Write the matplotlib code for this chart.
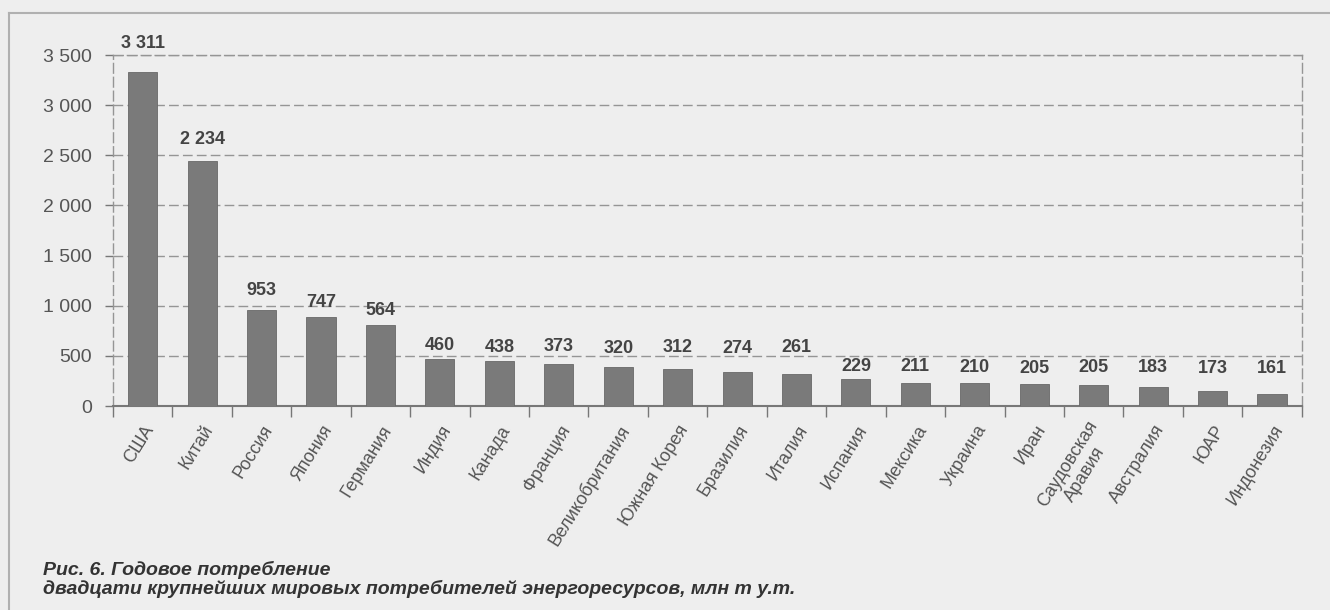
import matplotlib
matplotlib.use("Agg")
from matplotlib import pyplot as plt
from matplotlib.lines import Line2D
from matplotlib.ticker import FuncFormatter
from matplotlib.transforms import ScaledTranslation

# countries, printed values (mln t of fuel equivalent)
countries = ["США", "Китай", "Россия", "Япония", "Германия", "Индия", "Канада",
             "Франция", "Великобритания", "Южная Корея", "Бразилия", "Италия",
             "Испания", "Мексика", "Украина", "Иран", "Саудовская\nАравия",
             "Австралия", "ЮАР", "Индонезия"]
printed_values = [3311, 2234, 953, 747, 564, 460, 438, 373, 320, 312, 274, 261,
                  229, 211, 210, 205, 205, 183, 173, 161]
# heights of the bars as they are drawn in the source figure
# (they do not follow the printed numbers exactly)
bar_heights = [3334, 2439, 961, 888, 812, 472, 444, 421, 388, 365, 338, 322,
               269, 232, 229, 219, 209, 186, 153, 116]
y_ticks = [0, 500, 1000, 1500, 2000, 2500, 3000, 3500]

# how far above each bar its number sits (pixels, label centre)
label_pad_px = [28, 22, 19, 14, 14, 13, 14, 17, 19, 22, 24, 26,
                13, 16, 16, 16, 18, 20, 22, 26]

bg = "#eeeeee"
plt.rcParams['font.family'] = ['Liberation Sans', 'DejaVu Sans']

fig = plt.figure(figsize=(13.3, 6.1), dpi=100, facecolor=bg)
ax = fig.add_axes([0.085, 0.3344, 0.8937, 0.5754], facecolor=bg)

x = list(range(len(countries)))
ax.bar(x, bar_heights, width=0.49, color="#7a7a7a", edgecolor="#686868",
       linewidth=0.6, zorder=3)

for xi, h, v, pad in zip(x, bar_heights, printed_values, label_pad_px):
    txt = "{:,}".format(v).replace(",", " ")
    ax.annotate(txt, (xi, h), xytext=(0, pad), textcoords="offset pixels",
                ha="center", va="center", fontsize=13, fontweight="bold",
                color="#444444", zorder=4, annotation_clip=False)

ax.set_xlim(-0.5, len(countries) - 0.5)
ax.set_ylim(0, 3500)
ax.set_yticks(y_ticks)
ax.yaxis.set_major_formatter(FuncFormatter(lambda v, p: "{:,}".format(int(v)).replace(",", " ")))
ax.yaxis.grid(True, linestyle=(0, (7, 3)), color="#959595", linewidth=1.0, zorder=1)
ax.tick_params(axis="y", direction="out", length=6, width=1, color="#777777",
               labelsize=14, labelcolor="#555555", pad=9)

# x ticks sit between the bars, labels on the bar centres
ax.set_xticks([i - 0.5 for i in range(len(countries) + 1)])
ax.set_xticklabels([])
ax.set_xticks(x, minor=True)
ax.set_xticklabels(countries, minor=True, rotation=58, ha="right",
                   rotation_mode="anchor", fontsize=13, color="#555555",
                   multialignment="center", linespacing=1.25)
ax.tick_params(axis="x", which="major", direction="out", length=8, width=1, color="#777777")
ax.tick_params(axis="x", which="minor", length=0, pad=14)
shift = ScaledTranslation(6 / 100, 0, fig.dpi_scale_trans)
for lbl in ax.get_xticklabels(minor=True):
    lbl.set_va("center_baseline")
    lbl.set_transform(lbl.get_transform() + shift)

for side in ["left", "right", "top"]:
    ax.spines[side].set_linestyle((0, (7, 3)))
    ax.spines[side].set_color("#959595")
    ax.spines[side].set_linewidth(1.0)
ax.spines["bottom"].set_color("#777777")
ax.spines["bottom"].set_linewidth(1.5)

# frame of the figure box
fig.add_artist(Line2D([9 / 1330, 9 / 1330], [0, 1 - 12.5 / 610], color="#b0b0b0", lw=1.5))
fig.add_artist(Line2D([9 / 1330, 1], [1 - 12.5 / 610, 1 - 12.5 / 610], color="#b0b0b0", lw=1.5))

fig.text(43 / 1330, 1 - 575 / 610, "Рис. 6. Годовое потребление", fontsize=14,
         fontweight="bold", fontstyle="italic", color="#333333", va="baseline")
fig.text(43 / 1330, 1 - 594 / 610,
         "двадцати крупнейших мировых потребителей энергоресурсов, млн т у.т.",
         fontsize=14, fontweight="bold", fontstyle="italic", color="#333333", va="baseline")

fig.savefig("out.png", dpi=100, facecolor=bg)
